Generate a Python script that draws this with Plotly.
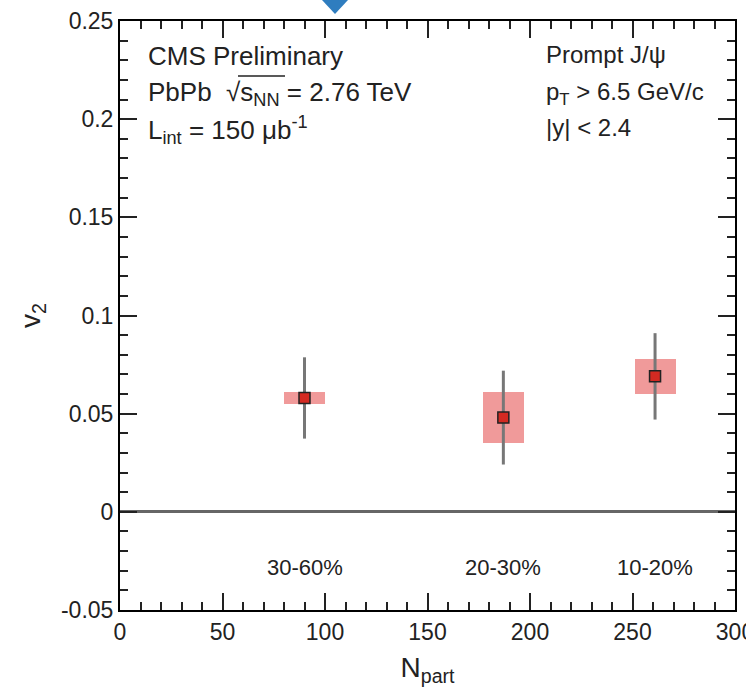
import plotly.graph_objects as go

# ---- data ----
centrality = ["30-60%", "20-30%", "10-20%"]
npart = [90.0, 187.0, 261.0]
v2 = [0.058, 0.048, 0.069]
v2_stat = [0.0207, 0.0239, 0.022]
v2_syst = [0.003, 0.013, 0.0088]
npart_box_halfwidth = [10.0, 10.0, 10.0]
label_y = -0.0285

xticks = [0, 50, 100, 150, 200, 250, 300]
xtick_text = ["0", "50", "100", "150", "200", "250", "300"]
yticks = [-0.05, 0, 0.05, 0.1, 0.15, 0.2, 0.25]
ytick_text = ["-0.05", "0", "0.05", "0.1", "0.15", "0.2", "0.25"]

W, H = 746, 697
L, R, T, B = 120, 11, 21, 87
PW, PH = W - L - R, H - T - B
FONT = "Liberation Sans, Arial, Helvetica, sans-serif"


def px(x):
    return (x - L) / PW


def py(y):
    return (H - B - y) / PH


fig = go.Figure()

# systematic boxes
fig.add_trace(go.Bar(
    x=npart,
    y=[2 * s for s in v2_syst],
    base=[v - s for v, s in zip(v2, v2_syst)],
    width=[2 * w for w in npart_box_halfwidth],
    marker=dict(color="#f09a9a", line=dict(width=0)),
    showlegend=False,
    hoverinfo="skip",
))

# points with stat errors
fig.add_trace(go.Scatter(
    x=npart,
    y=v2,
    mode="markers",
    marker=dict(symbol="square", size=11, color="#d42a22",
                line=dict(color="#222222", width=1.5)),
    error_y=dict(type="data", array=v2_stat, visible=True,
                 color="#777777", thickness=3, width=0),
    showlegend=False,
))

annotations = []
for c, x in zip(centrality, npart):
    annotations.append(dict(x=x, y=label_y, xref="x", yref="y", text=c,
                            showarrow=False, xanchor="center", yanchor="middle",
                            font=dict(family=FONT, size=22, color="#222222")))

left_lines = [
    ("CMS Preliminary", 56),
    ("PbPb  √s<sub>NN</sub> = 2.76 TeV", 93),
    ("L<sub>int</sub> = 150 μb<sup>-1</sup>", 130),
]
for txt, yy in left_lines:
    annotations.append(dict(x=px(146), y=py(yy), xref="paper", yref="paper", text=txt,
                            showarrow=False, xanchor="left", yanchor="middle",
                            font=dict(family=FONT, size=26, color="#222222")))

right_lines = [
    ("Prompt J/ψ", 55),
    ("p<sub>T</sub> > 6.5 GeV/c", 94),
    ("|y| < 2.4", 127),
]
for txt, yy in right_lines:
    annotations.append(dict(x=px(544), y=py(yy), xref="paper", yref="paper", text=txt,
                            showarrow=False, xanchor="left", yanchor="middle",
                            font=dict(family=FONT, size=24, color="#222222")))

shapes = [
    # overline of sqrt
    dict(type="line", xref="paper", yref="paper", x0=px(238), x1=px(285),
         y0=py(76), y1=py(76), line=dict(color="#222222", width=1.5)),
    # blue arrow head at top (page decoration)
    dict(type="path", xref="paper", yref="paper",
         path=f"M {px(322)},{py(0)} L {px(348)},{py(0)} L {px(335)},{py(14)} Z",
         fillcolor="#2f7dbf", line=dict(width=0)),
]

axis_common = dict(
    showline=True, linecolor="black", linewidth=2, mirror="allticks",
    ticks="inside", ticklen=17, tickwidth=1.5, tickcolor="#222222",
    showgrid=False, automargin=False, ticklabeloverflow="allow",
    tickfont=dict(family=FONT, size=23, color="#222222"),
)

fig.update_layout(
    width=W, height=H,
    margin=dict(l=L, r=R, t=T, b=B, pad=0, autoexpand=False),
    paper_bgcolor="white", plot_bgcolor="white",
    font=dict(family=FONT, color="#222222"),
    annotations=annotations,
    shapes=shapes,
    bargap=0,
    xaxis=dict(
        range=[0, 300], tickvals=xticks, ticktext=xtick_text,
        minor=dict(ticks="inside", ticklen=8, dtick=10, tick0=0,
                   tickcolor="#222222", tickwidth=1.5),
        zeroline=False,
        title=dict(text="N<sub>part</sub>", font=dict(family=FONT, size=28), standoff=14),
        **axis_common,
    ),
    yaxis=dict(
        range=[-0.05, 0.25], tickvals=yticks, ticktext=ytick_text,
        minor=dict(ticks="inside", ticklen=8, dtick=0.01, tick0=0,
                   tickcolor="#222222", tickwidth=1.5),
        zeroline=True, zerolinecolor="#666666", zerolinewidth=2.5,
        title=dict(text="v<sub>2</sub>", font=dict(family=FONT, size=28), standoff=12),
        **axis_common,
    ),
)

fig.write_html("out.html")
